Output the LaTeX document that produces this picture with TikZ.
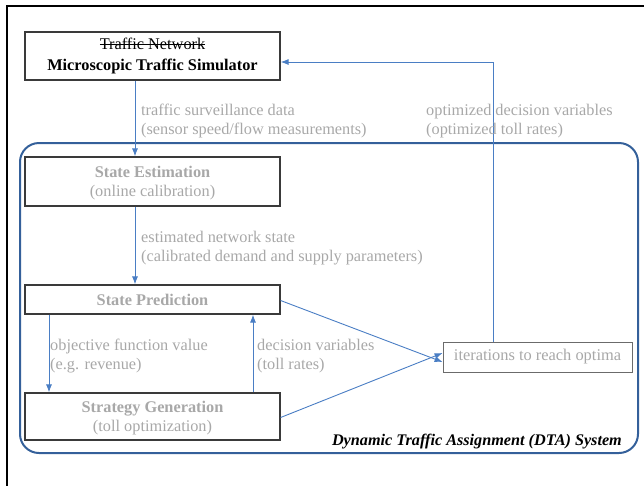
\documentclass[tikz,border=0pt]{standalone}
\usepackage{fontspec}
\setmainfont{Liberation Serif}
\usetikzlibrary{arrows.meta}
\newcommand\mystrike[1]{\setbox0\hbox{#1}\rlap{\rule[0.27em]{\wd0}{0.6pt}}\box0}
\definecolor{arr}{HTML}{4A7EC4}
\definecolor{frm}{HTML}{34609A}
\definecolor{txtg}{HTML}{A8A8A8}
\definecolor{bord}{HTML}{3A3A3A}
\begin{document}
\begin{tikzpicture}[x=1pt,y=-1pt,
  box/.style={draw=bord,line width=1.2pt,fill=white,minimum width=255pt,inner sep=0pt,align=center,font=\fontsize{16.3}{19}\selectfont},
  lbl/.style={text=txtg,anchor=base west,inner sep=0pt,align=left,font=\fontsize{16.3}{19}\selectfont},
  conn/.style={draw=arr,line width=0.9pt,-{Latex[length=8pt,width=6pt]}}]
\useasboundingbox (0,0) rectangle (644,485);
% outer frame
\draw[line width=2pt] (7,486) -- (7,6) -- (646,6);
% DTA frame
\draw[frm,line width=2pt,rounded corners=19pt] (20,143) rectangle (638,453);
% boxes
\node[box,minimum height=48pt,font=\fontsize{16.3}{21.5}\selectfont] (net) at (152.5,56) {\mystrike{Traffic Network}\\\textbf{Microscopic Traffic Simulator}};
\node[box,minimum height=49pt,text=txtg,text depth=0pt] (se) at (152.5,181.5) {\textbf{State Estimation}\\(online calibration)};
\node[box,minimum height=29pt,text=txtg] (sp) at (152.5,299.5) {\textbf{State Prediction}};
\node[box,minimum height=47pt,text=txtg,text depth=0pt] (sg) at (152.5,416.5) {\textbf{Strategy Generation}\\(toll optimization)};
\node[box,minimum width=189pt,minimum height=30pt,line width=0.8pt,draw=bord!75,text=txtg,font=\fontsize{16.4}{19}\selectfont] (it) at (537.5,357) {iterations to reach optima};
% coordinates for connector x positions
\coordinate (xa) at (135,0);
\coordinate (xb) at (49,0);
\coordinate (xc) at (253,0);
\coordinate (xd) at (493,0);
\coordinate (ya) at (0,62);
% connectors
\draw[conn] (net.south -| xa) -- (se.north -| xa);
\draw[conn] (se.south -| xa) -- (sp.north -| xa);
\draw[conn] (sp.south -| xb) -- (sg.north -| xb);
\draw[conn] (sg.north -| xc) -- (sp.south -| xc);
\draw[conn] ([yshift=-1pt]sp.east) -- ([yshift=-5pt]it.west);
\draw[conn] ([yshift=-1pt]sg.east) -- ([yshift=4pt]it.west);
\draw[conn] (it.north -| xd) -- (xd |- ya) -- (net.east |- ya);
% labels (anchor = baseline of the second line)
\node[lbl] (l1) at (141,134.5) {traffic surveillance data\\(sensor speed/flow measurements)};
\node[lbl] (l2) at (426,134.5) {optimized decision variables\\(optimized toll rates)};
\node[lbl] (l3) at (141,261.5) {estimated network state\\(calibrated demand and supply parameters)};
\node[lbl] (l4) at (50,369.5) {objective function value\\(e.g. revenue)};
\node[lbl] (l5) at (257,369.5) {decision variables\\(toll rates)};
\node[anchor=base east,inner sep=0pt,font=\fontsize{16.2}{18}\selectfont\bfseries\itshape] (dta) at (622,445) {Dynamic Traffic Assignment (DTA) System};
\end{tikzpicture}
\end{document}
